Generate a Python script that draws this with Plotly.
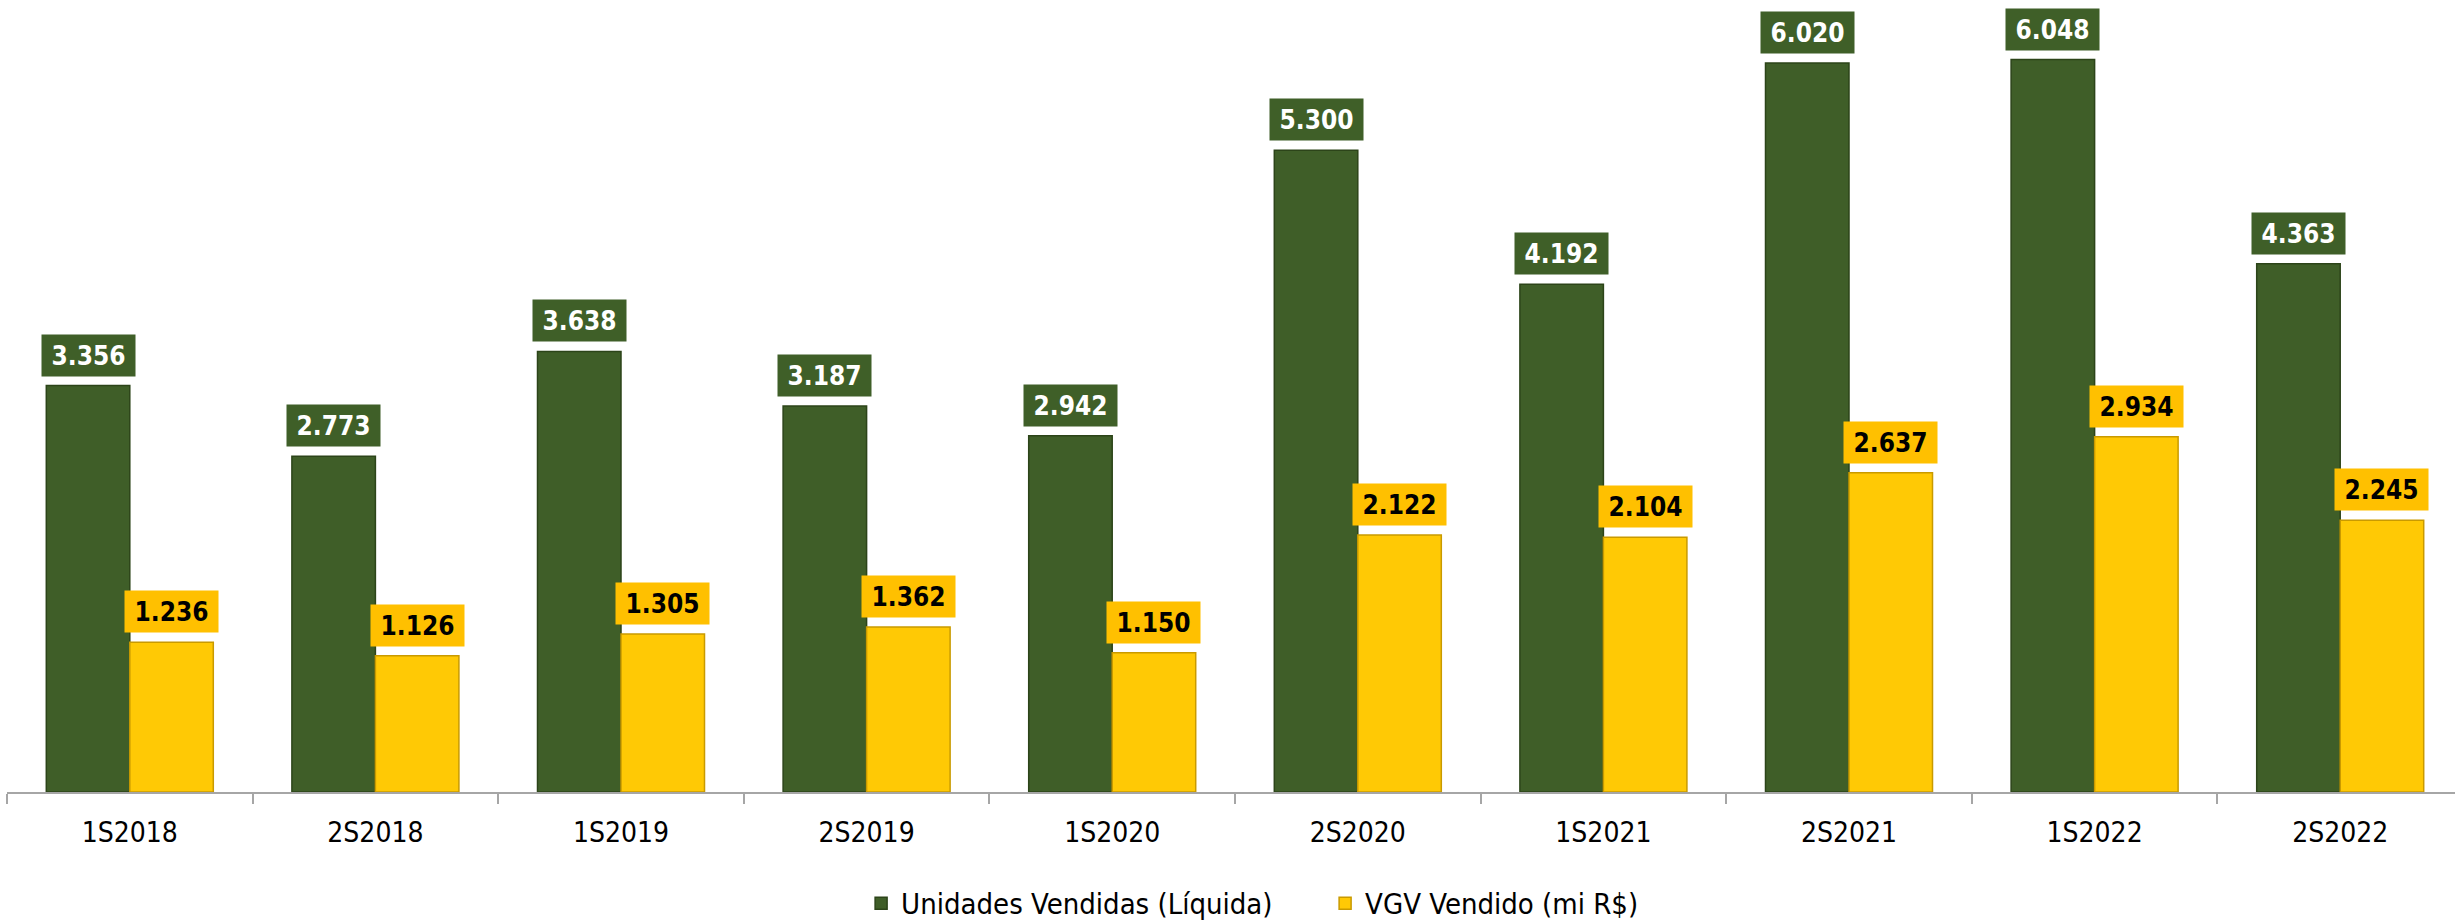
import plotly.graph_objects as go

categories = ["1S2018", "2S2018", "1S2019", "2S2019", "1S2020",
              "2S2020", "1S2021", "2S2021", "1S2022", "2S2022"]
unidades = [3356, 2773, 3638, 3187, 2942, 5300, 4192, 6020, 6048, 4363]
vgv = [1236, 1126, 1305, 1362, 1150, 2122, 2104, 2637, 2934, 2245]
series_names = ["Unidades Vendidas (Líquida)", "VGV Vendido (mi R$)"]

GREEN = "#3F5E28"
GREEN_EDGE = "#2C4419"
YELLOW = "#FFC905"
YELLOW_EDGE = "#C99A00"
LABEL_GREEN = "#3F5F28"
LABEL_YELLOW = "#FFC000"
FONT = "DejaVu Sans Condensed, DejaVu Sans, sans-serif"

def fmt(v):
    return f"{v:,}".replace(",", ".")

xs = list(range(len(categories)))

fig = go.Figure()
fig.add_trace(go.Bar(x=xs, y=unidades, name=series_names[0],
                     marker=dict(color=GREEN, line=dict(color=GREEN_EDGE, width=1.5))))
fig.add_trace(go.Bar(x=xs, y=vgv, name=series_names[1],
                     marker=dict(color=YELLOW, line=dict(color=YELLOW_EDGE, width=1.5))))

half = 0.17
annotations = []
for i, v in enumerate(unidades):
    annotations.append(dict(x=i - half, y=v, xref="x", yref="y", text="<b>" + fmt(v) + "</b>",
                            showarrow=False, yanchor="bottom", yshift=9,
                            bgcolor=LABEL_GREEN, width=93, height=41, borderpad=0,
                            font=dict(family=FONT, size=26, color="white")))
for i, v in enumerate(vgv):
    annotations.append(dict(x=i + half, y=v, xref="x", yref="y", text="<b>" + fmt(v) + "</b>",
                            showarrow=False, yanchor="bottom", yshift=9,
                            bgcolor=LABEL_YELLOW, width=93, height=41, borderpad=0,
                            font=dict(family=FONT, size=26, color="black")))

fig.update_layout(
    width=2455, height=920,
    margin=dict(l=7, r=0, t=5, b=128, autoexpand=False),
    plot_bgcolor="white", paper_bgcolor="white",
    barmode="group", bargap=0.32, bargroupgap=0,
    annotations=annotations,
    showlegend=True,
    legend=dict(orientation="h", x=0.3489, xanchor="left", y=-0.1414, yanchor="middle",
                font=dict(family=FONT, size=29, color="black"),
                itemwidth=30, entrywidth=419, traceorder="normal"),
    xaxis=dict(range=[-0.5, 9.4674], tickvals=xs, ticktext=categories,
               ticks="", showgrid=False, zeroline=False, automargin=False,
               showline=True, linecolor="#A6A6A6", linewidth=2,
               tickfont=dict(family=FONT, size=28, color="black"),
               ticklabelstandoff=14,
               minor=dict(tickvals=[i - 0.5 for i in range(len(categories) + 1)],
                          ticks="outside", ticklen=10, tickcolor="#A6A6A6", tickwidth=2)),
    yaxis=dict(range=[0, 6499], visible=False, showgrid=False, zeroline=False, automargin=False),
)

fig.write_html("out.html", config={"displayModeBar": False},
               post_script="document.body.style.margin='0';document.body.style.overflow='hidden';")
